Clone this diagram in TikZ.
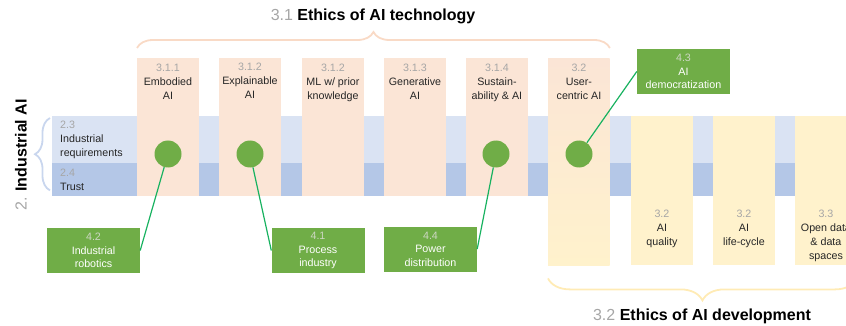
\documentclass[tikz,border=0pt]{standalone}
\usepackage{fontspec}
\setmainfont{Liberation Sans}
\usepackage{xcolor}
\usepackage{tikz}
\usetikzlibrary{positioning, decorations.pathreplacing}

\definecolor{techpeach}{HTML}{FBE5D6}
\definecolor{devyellow}{HTML}{FFF2CC}
\definecolor{bandlight}{HTML}{DAE3F3}
\definecolor{banddark}{HTML}{B4C7E7}
\definecolor{usegreen}{HTML}{70AD47}
\definecolor{linkgreen}{RGB}{24,178,96}
\definecolor{numgray}{HTML}{A6A6A6}
\definecolor{usenum}{RGB}{205,215,195}
\definecolor{bracepeach}{HTML}{F9DAC6}
\definecolor{braceyellow}{HTML}{FFEBB5}
\definecolor{braceblue}{HTML}{C9D6EE}

\newcommand{\secnum}[1]{{\color{numgray}#1}}

\begin{document}
\begin{tikzpicture}[
    x=1pt, y=-1pt,
    col/.style={anchor=north west, minimum width=61.5pt, inner sep=0pt},
    coltxt/.style={align=center, inner sep=0pt, text=black!85, font=\fontsize{10.7}{14}\selectfont},
    band/.style={anchor=north west, minimum width=794pt, inner sep=0pt, text width=778pt, align=left, text=black!85, font=\fontsize{10.7}{14}\selectfont},
    usecase/.style={fill=usegreen, minimum width=93pt, minimum height=45pt, inner sep=0pt, align=center, text=white, font=\fontsize{10.7}{13.5}\selectfont},
    dot/.style={circle, fill=usegreen, minimum size=27pt, inner sep=0pt},
    link/.style={draw=linkgreen, line width=1.2pt},
    bracket/.style={decorate, decoration={brace, amplitude=#1}, line width=1.8pt},
    title/.style={inner sep=0pt, font=\fontsize{16}{18}\selectfont}
]
    \useasboundingbox (0,0) rectangle (846,326);

    % industrial AI band
    \node[band, fill=bandlight, minimum height=47pt] (req) at (52,116) {\secnum{2.3}\\Industrial\\requirements};
    \node[band, fill=banddark, minimum height=33pt] (trust) at (52,163) {\secnum{2.4}\\Trust};

    % ethics of AI technology columns
    \node[col, fill=techpeach, minimum height=138pt] (emb) at (137,58) {};
    \node[col, fill=techpeach, minimum height=138pt] (xai) at (219,58) {};
    \node[col, fill=techpeach, minimum height=138pt] (mlk) at (302,58) {};
    \node[col, fill=techpeach, minimum height=138pt] (gen) at (384,58) {};
    \node[col, fill=techpeach, minimum height=138pt] (sus) at (466,58) {};
    \node[col, top color=techpeach, bottom color=devyellow, minimum height=207pt] (uc) at (548,58) {};

    % ethics of AI development columns
    \node[col, fill=devyellow, minimum height=149pt] (qual) at (631,116) {};
    \node[col, fill=devyellow, minimum height=149pt] (life) at (713,116) {};
    \node[col, fill=devyellow, minimum height=149pt] (od) at (795,116) {};

    \node[coltxt, below=6pt of emb.north] (embt) {\secnum{3.1.1}\\Embodied\\AI};
    \node[coltxt, below=5pt of xai.north] (xait) {\secnum{3.1.2}\\Explainable\\AI};
    \node[coltxt, below=6pt of mlk.north] (mlkt) {\secnum{3.1.2}\\ML w/ prior\\knowledge};
    \node[coltxt, below=6pt of gen.north] (gent) {\secnum{3.1.3}\\Generative\\AI};
    \node[coltxt, below=6pt of sus.north] (sust) {\secnum{3.1.4}\\Sustain-\\ability \& AI};
    \node[coltxt, below=6pt of uc.north] (uct) {\secnum{3.2}\\User-\\centric AI};
    \node[coltxt, below=94pt of qual.north] (qualt) {\secnum{3.2}\\AI\\quality};
    \node[coltxt, below=94pt of life.north] (lifet) {\secnum{3.2}\\AI\\life-cycle};
    \node[coltxt, below=94pt of od.north] (odt) {\secnum{3.3}\\Open data\\\& data\\spaces};

    % braces and titles
    \draw[bracket=16pt, bracepeach] ([yshift=10pt]emb.north west) -- ([yshift=10pt]uc.north east);
    \draw[bracket=22pt, braceyellow] ([yshift=-13pt]od.south east) -- ([yshift=-13pt]uc.south west);
    \draw[bracket=15pt, braceblue] ([shift={(-2pt,6pt)}]trust.south west) -- ([shift={(-2pt,-2pt)}]req.north west);
    \node[title] (techtitle) at (373,16) {\secnum{3.1} \textbf{Ethics of AI technology}};
    \node[title] (devtitle) at (702,316) {\secnum{3.2} \textbf{Ethics of AI development}};
    \node[title, rotate=90] (indtitle) at (21,155) {\secnum{2.} \textbf{Industrial AI}};

    % use cases
    \node[dot] (d1) at (168,154) {};
    \node[dot] (d2) at (250,154) {};
    \node[dot] (d3) at (496,154) {};
    \node[dot] (d4) at (579,154) {};
    \node[usecase] (robo) at (93.5,250.5) {{\color{usenum}4.2}\\Industrial\\robotics};
    \node[usecase] (proc) at (318,250.5) {{\color{usenum}4.1}\\Process\\industry};
    \node[usecase] (power) at (430.5,249) {{\color{usenum}4.4}\\Power\\distribution};
    \node[usecase] (demo) at (683.5,71.5) {{\color{usenum}4.3}\\AI\\democratization};
    \draw[link] (d1) -- (robo.east);
    \draw[link] (d2) -- (proc.west);
    \draw[link] (d3) -- (power.east);
    \draw[link] (d4) -- (demo.west);
\end{tikzpicture}
\end{document}
